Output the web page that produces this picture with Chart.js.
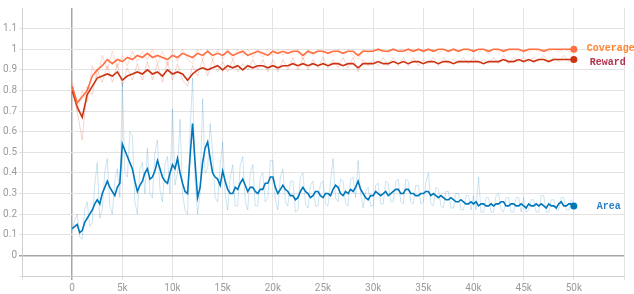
<!DOCTYPE html>
<html>
<head>
<meta charset="utf-8">
<script src="https://cdn.jsdelivr.net/npm/chart.js@4/dist/chart.umd.min.js"></script>
<style>
  html, body { margin: 0; padding: 0; background: #fff; }
  #chart { display: block; }
</style>
</head>
<body>
<canvas id="chart" width="634" height="294"></canvas>
<script>
// logged steps: every 500 for coverage/reward, every 250 for area
const steps = Array.from({ length: 101 }, (_, i) => i * 500);
const areaSteps = Array.from({ length: 201 }, (_, i) => i * 250);

const xTicks = [0, 5000, 10000, 15000, 20000, 25000, 30000, 35000, 40000, 45000, 50000];
const yTicks = [0, 0.1, 0.2, 0.3, 0.4, 0.5, 0.6, 0.7, 0.8, 0.9, 1, 1.1];

const coverageSmooth = [
  0.82, 0.74, 0.77, 0.80, 0.87, 0.90, 0.92, 0.95, 0.93, 0.95,
  0.94, 0.96, 0.95, 0.97, 0.96, 0.98, 0.96, 0.97, 0.96, 0.95,
  0.97, 0.96, 0.98, 0.97, 0.96, 0.98, 0.97, 0.99, 0.97, 0.98,
  0.97, 0.99, 0.97, 0.98, 0.99, 0.97, 0.98, 0.99, 0.98, 0.97,
  0.99, 0.98, 0.99, 0.98, 0.99, 0.99, 0.97, 0.99, 0.98, 0.99,
  0.99, 0.98, 0.99, 0.99, 0.98, 0.99, 0.99, 0.97, 0.99, 0.99,
  0.99, 1.00, 0.99, 0.99, 1.00, 0.99, 0.99, 1.00, 0.99, 1.00,
  0.99, 1.00, 0.99, 1.00, 1.00, 0.99, 1.00, 0.99, 1.00, 1.00,
  0.99, 1.00, 1.00, 0.99, 1.00, 1.00, 0.99, 1.00, 1.00, 1.00,
  0.99, 1.00, 1.00, 1.00, 0.99, 1.00, 1.00, 1.00, 1.00, 1.00,
  1.00
];
const coverageRaw = [
  0.84, 0.70, 0.80, 0.74, 0.92, 0.86, 0.97, 0.90, 0.99, 0.91,
  0.97, 0.92, 0.99, 0.94, 0.99, 0.95, 1.00, 0.93, 0.99, 0.92,
  1.00, 0.94, 1.00, 0.95, 0.93, 1.00, 0.95, 1.00, 0.95, 1.00,
  0.95, 1.00, 0.95, 1.00, 0.97, 1.00, 0.96, 1.00, 0.96, 1.00,
  0.97, 1.00, 0.97, 1.00, 0.98, 1.00, 0.95, 1.00, 0.97, 1.00,
  0.98, 1.00, 0.97, 1.00, 0.98, 1.00, 0.97, 0.95, 1.00, 0.98,
  1.00, 0.99, 1.00, 0.98, 1.00, 0.99, 1.00, 0.98, 1.00, 0.99,
  1.00, 0.99, 1.00, 0.98, 1.00, 0.99, 1.00, 0.99, 1.00, 0.99,
  1.00, 0.99, 1.00, 0.98, 1.00, 0.99, 1.00, 0.99, 1.00, 0.99,
  1.00, 0.99, 1.00, 0.99, 1.00, 0.99, 1.00, 0.99, 1.00, 0.99,
  1.00
];

const rewardSmooth = [
  0.80, 0.72, 0.67, 0.78, 0.82, 0.86, 0.87, 0.88, 0.87, 0.89,
  0.85, 0.87, 0.88, 0.89, 0.88, 0.90, 0.88, 0.89, 0.87, 0.90,
  0.88, 0.89, 0.88, 0.85, 0.88, 0.90, 0.91, 0.90, 0.91, 0.92,
  0.90, 0.92, 0.91, 0.92, 0.90, 0.92, 0.91, 0.92, 0.92, 0.91,
  0.92, 0.91, 0.92, 0.92, 0.93, 0.92, 0.93, 0.92, 0.93, 0.92,
  0.93, 0.92, 0.93, 0.93, 0.92, 0.93, 0.93, 0.91, 0.93, 0.93,
  0.93, 0.94, 0.93, 0.93, 0.94, 0.93, 0.94, 0.93, 0.94, 0.94,
  0.93, 0.94, 0.94, 0.93, 0.94, 0.94, 0.93, 0.94, 0.94, 0.94,
  0.94, 0.94, 0.93, 0.94, 0.94, 0.94, 0.95, 0.94, 0.94, 0.95,
  0.94, 0.95, 0.94, 0.95, 0.95, 0.94, 0.95, 0.95, 0.95, 0.95,
  0.95
];
const rewardRaw = [
  0.82, 0.70, 0.56, 0.82, 0.78, 0.90, 0.84, 0.92, 0.84, 0.93,
  0.82, 0.91, 0.85, 0.93, 0.85, 0.94, 0.85, 0.93, 0.84, 0.94,
  0.85, 0.93, 0.85, 0.82, 0.92, 0.87, 0.95, 0.87, 0.95, 0.89,
  0.94, 0.89, 0.95, 0.89, 0.93, 0.90, 0.95, 0.90, 0.95, 0.89,
  0.95, 0.89, 0.95, 0.90, 0.96, 0.90, 0.96, 0.90, 0.95, 0.91,
  0.96, 0.91, 0.95, 0.91, 0.96, 0.91, 0.96, 0.89, 0.95, 0.92,
  0.95, 0.92, 0.96, 0.92, 0.96, 0.92, 0.96, 0.92, 0.96, 0.92,
  0.95, 0.93, 0.96, 0.92, 0.96, 0.93, 0.95, 0.93, 0.96, 0.93,
  0.96, 0.93, 0.95, 0.93, 0.96, 0.93, 0.97, 0.93, 0.96, 0.94,
  0.96, 0.94, 0.96, 0.94, 0.97, 0.94, 0.96, 0.94, 0.97, 0.94,
  0.95
];

// one row = 5k steps
const areaSmooth = [
  0.13, 0.14, 0.15, 0.11, 0.12, 0.16, 0.18, 0.20, 0.22, 0.25, 0.27, 0.25, 0.30, 0.33, 0.36, 0.33, 0.31, 0.29, 0.33, 0.35,
  0.54, 0.51, 0.48, 0.45, 0.42, 0.36, 0.31, 0.34, 0.36, 0.40, 0.42, 0.37, 0.38, 0.41, 0.46, 0.42, 0.38, 0.36, 0.35, 0.40,
  0.44, 0.42, 0.47, 0.40, 0.35, 0.31, 0.30, 0.48, 0.64, 0.45, 0.28, 0.33, 0.45, 0.52, 0.55, 0.47, 0.40, 0.38, 0.37, 0.34,
  0.41, 0.36, 0.32, 0.30, 0.30, 0.33, 0.32, 0.35, 0.37, 0.34, 0.31, 0.33, 0.33, 0.31, 0.30, 0.32, 0.32, 0.35, 0.35, 0.38,
  0.38, 0.33, 0.30, 0.32, 0.34, 0.32, 0.31, 0.29, 0.29, 0.27, 0.28, 0.31, 0.33, 0.31, 0.30, 0.28, 0.29, 0.31, 0.31, 0.29,
  0.28, 0.30, 0.30, 0.29, 0.32, 0.34, 0.33, 0.30, 0.29, 0.31, 0.30, 0.32, 0.31, 0.33, 0.36, 0.32, 0.30, 0.28, 0.27, 0.29,
  0.29, 0.31, 0.30, 0.29, 0.30, 0.31, 0.29, 0.30, 0.31, 0.32, 0.32, 0.30, 0.30, 0.32, 0.32, 0.30, 0.30, 0.29, 0.29, 0.30,
  0.30, 0.31, 0.31, 0.29, 0.30, 0.29, 0.28, 0.29, 0.28, 0.27, 0.27, 0.28, 0.27, 0.26, 0.26, 0.27, 0.26, 0.25, 0.25, 0.26,
  0.25, 0.26, 0.24, 0.25, 0.25, 0.24, 0.24, 0.25, 0.24, 0.25, 0.25, 0.26, 0.26, 0.24, 0.24, 0.25, 0.25, 0.24, 0.24, 0.25,
  0.24, 0.23, 0.25, 0.24, 0.24, 0.25, 0.24, 0.25, 0.24, 0.23, 0.25, 0.24, 0.24, 0.23, 0.25, 0.26, 0.24, 0.24, 0.25, 0.25,
  0.24
];
const areaRaw = [
  0.12, 0.17, 0.20, 0.09, 0.08, 0.22, 0.26, 0.14, 0.16, 0.34, 0.45, 0.18, 0.22, 0.40, 0.47, 0.24, 0.20, 0.36, 0.42, 0.28,
  0.84, 0.40, 0.38, 0.60, 0.58, 0.26, 0.20, 0.42, 0.45, 0.30, 0.52, 0.30, 0.28, 0.50, 0.56, 0.32, 0.26, 0.44, 0.48, 0.30,
  0.71, 0.34, 0.40, 0.66, 0.30, 0.22, 0.20, 0.60, 0.86, 0.36, 0.20, 0.30, 0.76, 0.40, 0.42, 0.64, 0.50, 0.28, 0.26, 0.44,
  0.55, 0.30, 0.22, 0.38, 0.44, 0.24, 0.24, 0.44, 0.48, 0.26, 0.22, 0.40, 0.44, 0.24, 0.24, 0.38, 0.40, 0.26, 0.28, 0.46,
  0.46, 0.27, 0.22, 0.38, 0.42, 0.26, 0.24, 0.36, 0.36, 0.21, 0.22, 0.38, 0.40, 0.25, 0.23, 0.34, 0.36, 0.24, 0.24, 0.35,
  0.36, 0.25, 0.24, 0.36, 0.47, 0.28, 0.26, 0.37, 0.36, 0.25, 0.24, 0.37, 0.38, 0.28, 0.46, 0.30, 0.23, 0.31, 0.33, 0.24,
  0.24, 0.34, 0.35, 0.25, 0.25, 0.36, 0.35, 0.26, 0.26, 0.36, 0.37, 0.26, 0.25, 0.37, 0.36, 0.26, 0.25, 0.34, 0.34, 0.25,
  0.26, 0.35, 0.40, 0.25, 0.24, 0.33, 0.32, 0.24, 0.23, 0.31, 0.31, 0.23, 0.23, 0.30, 0.30, 0.22, 0.22, 0.29, 0.29, 0.22,
  0.29, 0.22, 0.38, 0.21, 0.21, 0.28, 0.28, 0.21, 0.21, 0.29, 0.30, 0.22, 0.21, 0.28, 0.28, 0.21, 0.21, 0.28, 0.28, 0.21,
  0.28, 0.21, 0.22, 0.27, 0.27, 0.21, 0.21, 0.29, 0.29, 0.21, 0.21, 0.27, 0.27, 0.22, 0.22, 0.28, 0.28, 0.22, 0.22, 0.27,
  0.25
];

const toPoints = (xs, values) => values.map((v, i) => ({ x: xs[i], y: v }));

function rawSet(xs, values, color) {
    return {
        data: toPoints(xs, values),
        borderColor: color,
        borderWidth: 1,
        pointRadius: 0,
        tension: 0
    };
}

function smoothSet(name, xs, values, color, labelColor) {
    return {
        label: name,
        labelColor: labelColor,
        data: toPoints(xs, values),
        borderColor: color,
        backgroundColor: color,
        borderWidth: 1.6,
        tension: 0,
        pointRadius: ctx => (ctx.dataIndex === values.length - 1 ? 3.5 : 0),
        pointBorderWidth: 0
    };
}

// run names next to the last point of each smoothed line
const endLabels = {
    id: 'endLabels',
    afterDatasetsDraw(chart) {
        const ctx = chart.ctx;
        const offsets = { Coverage: [13, -1], Reward: [16, 3], Area: [23, 1] };
        ctx.save();
        ctx.font = 'bold 10px "Liberation Mono", monospace';
        ctx.textBaseline = 'middle';
        ctx.textAlign = 'left';
        chart.data.datasets.forEach((ds, i) => {
            if (!ds.label) return;
            const pts = chart.getDatasetMeta(i).data;
            const last = pts[pts.length - 1];
            const off = offsets[ds.label];
            ctx.fillStyle = ds.labelColor;
            ctx.fillText(ds.label, last.x + off[0], last.y + off[1]);
        });
        ctx.restore();
    }
};

new Chart(document.getElementById('chart'), {
    type: 'line',
    data: {
        datasets: [
            rawSet(areaSteps, areaRaw, 'rgba(0, 119, 187, 0.2)'),
            rawSet(steps, coverageRaw, 'rgba(255, 112, 67, 0.25)'),
            rawSet(steps, rewardRaw, 'rgba(204, 51, 17, 0.2)'),
            smoothSet('Area', areaSteps, areaSmooth, '#0077bb', '#2b7fc4'),
            smoothSet('Coverage', steps, coverageSmooth, '#ff7043', '#ff8533'),
            smoothSet('Reward', steps, rewardSmooth, '#cc3311', '#b0334d')
        ]
    },
    plugins: [endLabels],
    options: {
        responsive: false,
        animation: false,
        devicePixelRatio: 1,
        layout: { padding: { top: 4, right: 10, left: 0, bottom: 0 } },
        plugins: {
            legend: { display: false },
            tooltip: { enabled: false }
        },
        scales: {
            x: {
                type: 'linear',
                min: -5000,
                max: 55000,
                afterFit: s => { s.height = 18; },
                afterBuildTicks: s => {
                    s.ticks = [-5000].concat(xTicks, [55000]).map(v => ({ value: v }));
                },
                border: { color: '#cfcfcf' },
                grid: {
                    color: c => (c.tick && c.tick.value === 0 ? '#a6a6a6' : '#e3e3e3'),
                    lineWidth: c => (c.tick && c.tick.value === 0 ? 1.5 : 1),
                    tickLength: 4
                },
                ticks: {
                    autoSkip: false,
                    maxRotation: 0,
                    padding: 2,
                    color: '#9a9a9a',
                    font: { family: 'Roboto, "Open Sans", sans-serif', size: 10 },
                    callback: v => (xTicks.includes(v) ? (v === 0 ? '0' : v / 1000 + 'k') : '')
                }
            },
            y: {
                min: -0.1,
                max: 1.2,
                afterFit: s => { s.width = 22; },
                afterBuildTicks: s => {
                    s.ticks = [-0.1].concat(yTicks, [1.2]).map(v => ({ value: v }));
                },
                border: { color: '#cfcfcf' },
                grid: {
                    color: c => {
                        if (!c.tick) return '#e3e3e3';
                        if (c.tick.value === 0) return '#a6a6a6';
                        if (c.tick.value === 1.2) return 'rgba(0,0,0,0)';
                        return '#e3e3e3';
                    },
                    lineWidth: c => (c.tick && c.tick.value === 0 ? 1.5 : 1),
                    tickLength: 3
                },
                ticks: {
                    autoSkip: false,
                    padding: 2,
                    color: '#9a9a9a',
                    font: { family: 'Roboto, "Open Sans", sans-serif', size: 10 },
                    callback: v => (yTicks.includes(v) ? String(v) : '')
                }
            }
        }
    }
});
</script>
</body>
</html>
